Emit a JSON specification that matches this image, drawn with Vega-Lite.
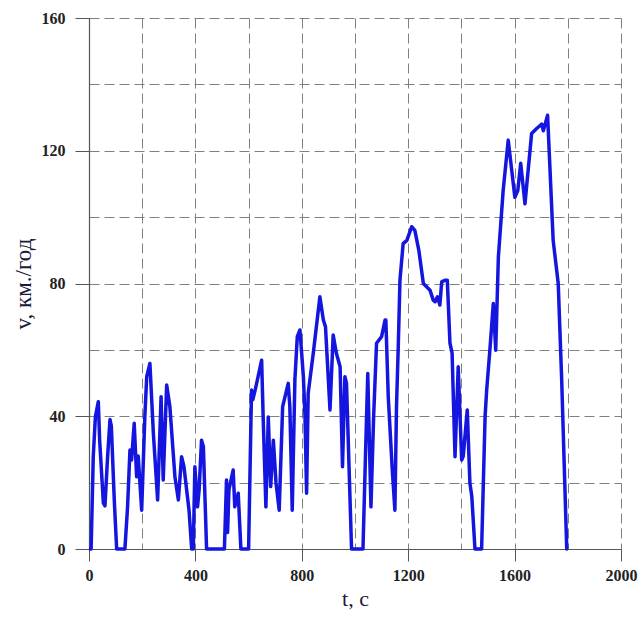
{
  "$schema": "https://vega.github.io/schema/vega-lite/v6.json",
  "autosize": "none",
  "width": 532,
  "height": 531,
  "padding": {"left": 89, "top": 18, "right": 20, "bottom": 70},
  "background": "white",
  "config": {"view": {"stroke": null}},
  "data": {"values": [
    {"t":0,"v":0},{"t":8,"v":0},{"t":16,"v":27.8},{"t":24,"v":39.8},{"t":35,"v":44.4},{"t":40,"v":32.8},{"t":54,"v":13.8},{"t":60,"v":13},{"t":70,"v":28},{"t":79,"v":39},{"t":84,"v":37},{"t":95,"v":14.8},{"t":104,"v":0},
    {"t":135,"v":0},{"t":145,"v":12.7},{"t":154,"v":29.8},{"t":160,"v":26.8},{"t":170,"v":37.9},{"t":179,"v":21.8},{"t":185,"v":28},{"t":198,"v":11.7},{"t":210,"v":40},{"t":217,"v":51.9},{"t":229,"v":55.9},{"t":242,"v":34.8},{"t":258,"v":14.8},{"t":271,"v":45.9},{"t":279,"v":20.8},{"t":292,"v":49.4},{"t":304,"v":42.9},{"t":323,"v":21.8},{"t":336,"v":14.8},{"t":348,"v":27.8},{"t":357,"v":24.8},{"t":376,"v":11.7},{"t":386,"v":0},
    {"t":392,"v":0},{"t":398,"v":24.8},{"t":408,"v":12.7},{"t":414,"v":17.8},{"t":423,"v":32.8},{"t":430,"v":30.8},{"t":442,"v":0},
    {"t":509,"v":0},{"t":517,"v":20.8},{"t":521,"v":5},{"t":526,"v":17.8},{"t":542,"v":23.8},{"t":548,"v":12.7},{"t":561,"v":16.8},{"t":571,"v":0},
    {"t":600,"v":0},{"t":611,"v":47.9},{"t":616,"v":45},{"t":625,"v":48},{"t":649,"v":56.9},{"t":655,"v":38.9},{"t":665,"v":12.7},{"t":674,"v":39.8},{"t":683,"v":18.8},{"t":693,"v":32.8},{"t":703,"v":20},{"t":715,"v":11.7},{"t":728,"v":42.9},{"t":749,"v":49.9},{"t":755,"v":43},{"t":764,"v":11.7},{"t":774,"v":50.9},{"t":783,"v":64},{"t":793,"v":66},{"t":806,"v":51.9},{"t":812,"v":40},{"t":818,"v":16.8},{"t":824,"v":46.9},{"t":843,"v":58.9},{"t":868,"v":76},{"t":881,"v":69},{"t":889,"v":67},{"t":906,"v":41.9},{"t":918,"v":64.5},{"t":930,"v":59},{"t":944,"v":54.9},{"t":953,"v":24.8},{"t":962,"v":51.9},{"t":968,"v":50},{"t":987,"v":0},
    {"t":1030,"v":0},{"t":1040,"v":30},{"t":1048,"v":52.9},{"t":1060,"v":12.7},{"t":1070,"v":39.8},{"t":1081,"v":62},{"t":1100,"v":64},{"t":1113,"v":69},{"t":1116,"v":69},{"t":1125,"v":45.9},{"t":1140,"v":24},{"t":1150,"v":11.7},{"t":1156,"v":42.9},{"t":1163,"v":62},{"t":1169,"v":81},{"t":1181,"v":92},{"t":1195,"v":93},{"t":1213,"v":97.1},{"t":1225,"v":96},{"t":1240,"v":90},{"t":1257,"v":80},{"t":1282,"v":78},{"t":1294,"v":75},{"t":1301,"v":74.5},{"t":1310,"v":76},{"t":1319,"v":73.5},{"t":1326,"v":80.5},{"t":1338,"v":81},{"t":1347,"v":81},{"t":1357,"v":62},{"t":1365,"v":59},{"t":1376,"v":27.8},{"t":1388,"v":54.9},{"t":1401,"v":26.8},{"t":1407,"v":28},{"t":1422,"v":41.9},{"t":1432,"v":19.8},{"t":1439,"v":16},{"t":1451,"v":0},
    {"t":1476,"v":0},{"t":1489,"v":39.8},{"t":1495,"v":47.9},{"t":1507,"v":59.9},{"t":1520,"v":74},{"t":1529,"v":59.9},{"t":1539,"v":88},{"t":1557,"v":108},{"t":1576,"v":123.2},{"t":1601,"v":106},{"t":1612,"v":108},{"t":1623,"v":116.2},{"t":1639,"v":104},{"t":1664,"v":125.2},{"t":1683,"v":126.7},{"t":1702,"v":128},{"t":1708,"v":126},{"t":1724,"v":130.7},{"t":1745,"v":93},{"t":1764,"v":80},{"t":1777,"v":51},{"t":1796,"v":0},{"t":1800,"v":0}
  ]},
  "mark": {"type": "line", "color": "#1515e0", "strokeWidth": 3.5, "strokeJoin": "round"},
  "encoding": {
    "x": {
      "field": "t", "type": "quantitative",
      "scale": {"domain": [0, 2000], "nice": false},
      "axis": {
        "title": "t, с",
        "titleFont": "Liberation Serif", "titleFontSize": 22, "titleFontWeight": "normal", "titleColor": "#1a1a3a", "titlePadding": 5,
        "values": [0,200,400,600,800,1000,1200,1400,1600,1800,2000],
        "labelExpr": "datum.value % 400 === 0 ? datum.label : ''",
        "labelFont": "Liberation Serif", "labelFontSize": 16, "labelFontWeight": "bold", "labelColor": "#222222", "labelPadding": 6,
        "format": "d",
        "tickSize": 12, "tickColor": "#555555",
        "tickOpacity": {"condition": {"test": "datum.value % 400 === 0", "value": 1}, "value": 0},
        "domainColor": "#555555", "domainWidth": 1.2,
        "grid": true, "gridColor": "#808080", "gridDash": [10, 5], "gridWidth": 1,
        "labelFlush": false
      }
    },
    "y": {
      "field": "v", "type": "quantitative",
      "scale": {"domain": [0, 160], "nice": false},
      "axis": {
        "title": "v, км./год",
        "titleFont": "Liberation Serif", "titleFontSize": 23, "titleFontWeight": "normal", "titleColor": "#1a1a3a", "titlePadding": 6,
        "values": [0,20,40,60,80,100,120,140,160],
        "labelExpr": "datum.value % 40 === 0 ? datum.label : ''",
        "labelFont": "Liberation Serif", "labelFontSize": 16, "labelFontWeight": "bold", "labelColor": "#222222", "labelPadding": 10,
        "tickSize": 14, "tickColor": "#555555",
        "tickOpacity": {"condition": {"test": "datum.value % 40 === 0", "value": 1}, "value": 0},
        "domainColor": "#555555", "domainWidth": 1.2,
        "grid": true, "gridColor": "#808080", "gridDash": [10, 5], "gridWidth": 1,
        "labelFlush": false
      }
    }
  }
}
